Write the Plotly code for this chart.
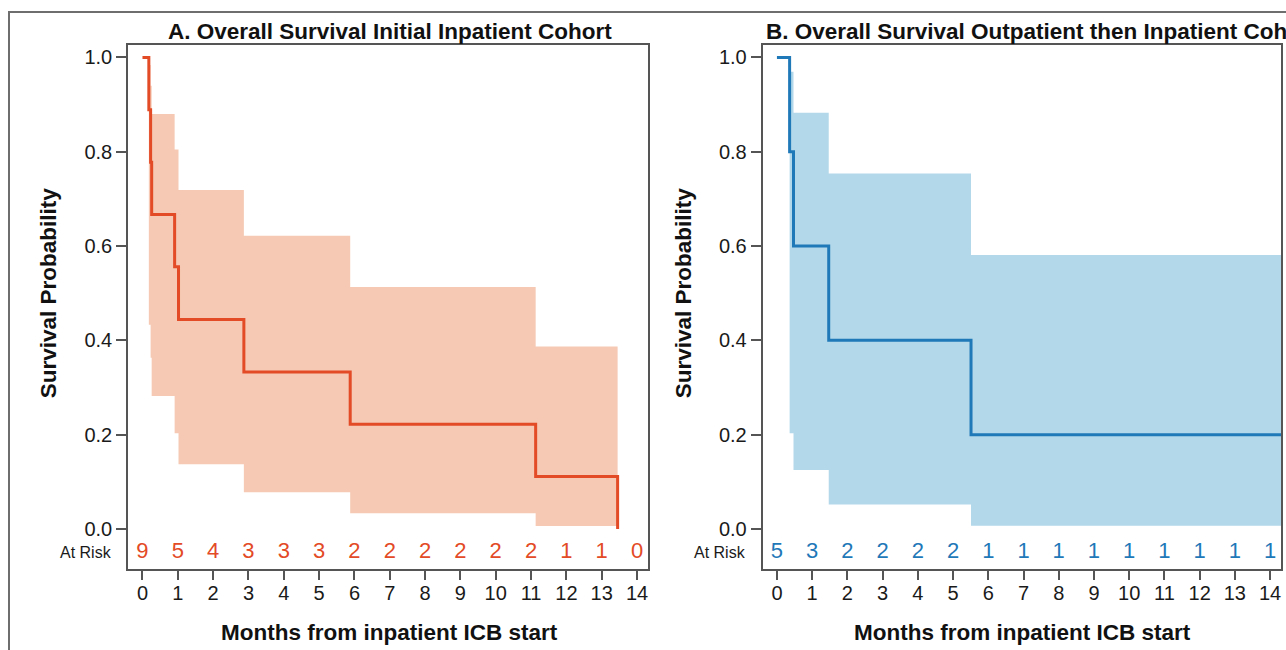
import plotly.graph_objects as go

# ---------------- data ----------------
months = list(range(0, 15))

# Panel A: Initial Inpatient Cohort
time_A = [0, 0.18, 0.23, 0.26, 0.91, 1.02, 2.87, 5.88, 11.13, 13.45]
surv_A = [1.0, 0.889, 0.778, 0.667, 0.556, 0.444, 0.333, 0.222, 0.111, 0.0]
ci_time_A = [0.18, 0.23, 0.26, 0.91, 1.02, 2.87, 5.88, 11.13, 13.45]
upper_A = [0.984, 0.94, 0.880, 0.805, 0.719, 0.622, 0.513, 0.387, 0.387]
lower_A = [0.433, 0.363, 0.282, 0.203, 0.137, 0.078, 0.033, 0.006, 0.006]
risk_A = [9, 5, 4, 3, 3, 3, 2, 2, 2, 2, 2, 2, 1, 1, 0]

# Panel B: Outpatient then Inpatient Cohort
time_B = [0, 0.36, 0.47, 1.47, 5.51, 14.8]
surv_B = [1.0, 0.8, 0.6, 0.4, 0.2, 0.2]
ci_time_B = [0.36, 0.47, 1.47, 5.51, 14.8]
upper_B = [0.970, 0.883, 0.754, 0.581, 0.581]
lower_B = [0.203, 0.125, 0.052, 0.007, 0.007]
risk_B = [5, 3, 2, 2, 2, 2, 1, 1, 1, 1, 1, 1, 1, 1, 1]

title_A = "A. Overall Survival Initial Inpatient Cohort"
title_B = "B. Overall Survival Outpatient then Inpatient Cohort"
x_title = "Months from inpatient ICB start"
y_title = "Survival Probability"

# ---------------- style ----------------
W, H = 1286, 650
FONT = "Arial, Liberation Sans, Helvetica, sans-serif"
col_A, fill_A = "#E34A26", "#F5C9B4"
col_B, fill_B = "#1F78B8", "#B3D8EA"
frame_col = "#555555"

def px(x):
    return x / W

def py(y):
    return 1 - y / H

domA = [px(128), px(648)]
domB = [px(762.5), px(1281)]
ydom = [py(569), py(45)]
xrange_ = [-0.41, 14.31]
yrange_ = [-0.085, 1.0265]

fig = go.Figure()

def add_panel(xa, ya, t, s, ct, up, lo, risk, col, fill):
    fig.add_trace(go.Scatter(x=ct, y=up, xaxis=xa, yaxis=ya, mode="lines",
                             line=dict(width=0, shape="hv", color=fill),
                             hoverinfo="skip", showlegend=False))
    fig.add_trace(go.Scatter(x=ct, y=lo, xaxis=xa, yaxis=ya, mode="lines",
                             line=dict(width=0, shape="hv", color=fill),
                             fill="tonexty", fillcolor=fill,
                             hoverinfo="skip", showlegend=False))
    fig.add_trace(go.Scatter(x=t, y=s, xaxis=xa, yaxis=ya, mode="lines",
                             line=dict(width=3, shape="hv", color=col),
                             showlegend=False))
    fig.add_trace(go.Scatter(x=months, y=[-0.051] * len(months), xaxis=xa, yaxis=ya,
                             mode="text", text=[str(r) for r in risk],
                             textfont=dict(family=FONT, size=22, color=col),
                             textposition="middle center",
                             hoverinfo="skip", showlegend=False))

add_panel("x", "y", time_A, surv_A, ci_time_A, upper_A, lower_A, risk_A, col_A, fill_A)
add_panel("x2", "y2", time_B, surv_B, ci_time_B, upper_B, lower_B, risk_B, col_B, fill_B)

axis_common = dict(showgrid=False, zeroline=False, showline=True, mirror=True,
                   linecolor=frame_col, linewidth=1.5, ticks="outside",
                   tickcolor=frame_col, tickwidth=1.5,
                   tickfont=dict(family=FONT, size=20, color="#1a1a1a"))

fig.update_layout(
    width=W, height=H,
    margin=dict(l=0, r=0, t=0, b=0),
    paper_bgcolor="white", plot_bgcolor="white",
    xaxis=dict(domain=domA, range=xrange_, tickvals=months, ticklen=9,
               ticklabelstandoff=-4, anchor="y", **axis_common),
    yaxis=dict(domain=ydom, range=yrange_, tickvals=[0, 0.2, 0.4, 0.6, 0.8, 1.0],
               tickformat=".1f", ticklen=10, anchor="x", **axis_common),
    xaxis2=dict(domain=domB, range=xrange_, tickvals=months, ticklen=9,
                ticklabelstandoff=-4, anchor="y2", **axis_common),
    yaxis2=dict(domain=ydom, range=yrange_, tickvals=[0, 0.2, 0.4, 0.6, 0.8, 1.0],
                tickformat=".1f", ticklen=10, anchor="x2", **axis_common),
)

ann = []
title_font = dict(family=FONT, size=22.5, color="#111111")
# Panel titles
ann.append(dict(text="<b>%s</b>" % title_A, x=px(390), y=py(32), xref="paper", yref="paper",
                xanchor="center", yanchor="middle", showarrow=False, font=title_font))
ann.append(dict(text="<b>%s</b>" % title_B, x=px(764), y=py(32), xref="paper", yref="paper",
                xanchor="left", yanchor="middle", showarrow=False, font=title_font))
# x-axis titles
for cx in (389, 1023):
    ann.append(dict(text="<b>%s</b>" % x_title, x=px(cx), y=py(632), xref="paper", yref="paper",
                    xanchor="center", yanchor="middle", showarrow=False, font=title_font))
# y-axis titles
for cx, yr in ((48, "y"), (683, "y2")):
    ann.append(dict(text="<b>%s</b>" % y_title, x=px(cx), y=0.5, xref="paper", yref=yr,
                    xanchor="center", yanchor="middle", textangle=-90, showarrow=False,
                    font=title_font))
# At Risk labels
for rx, yr in ((114, "y"), (748, "y2")):
    ann.append(dict(text="At Risk", x=px(rx), y=-0.051, xref="paper", yref=yr,
                    xanchor="right", yanchor="middle", showarrow=False,
                    font=dict(family=FONT, size=16, color="#1a1a1a")))
fig.update_layout(annotations=ann)

# outer border of the figure (extends past the right/bottom edges)
fig.add_shape(type="rect", xref="paper", yref="paper",
              x0=px(9), x1=1.2, y0=-0.2, y1=py(12),
              line=dict(color="#6e6e6e", width=2), layer="below")

fig.write_html(
    "out.html",
    config={"displayModeBar": False},
    post_script="document.body.style.margin='0';document.body.style.overflow='hidden';",
)
